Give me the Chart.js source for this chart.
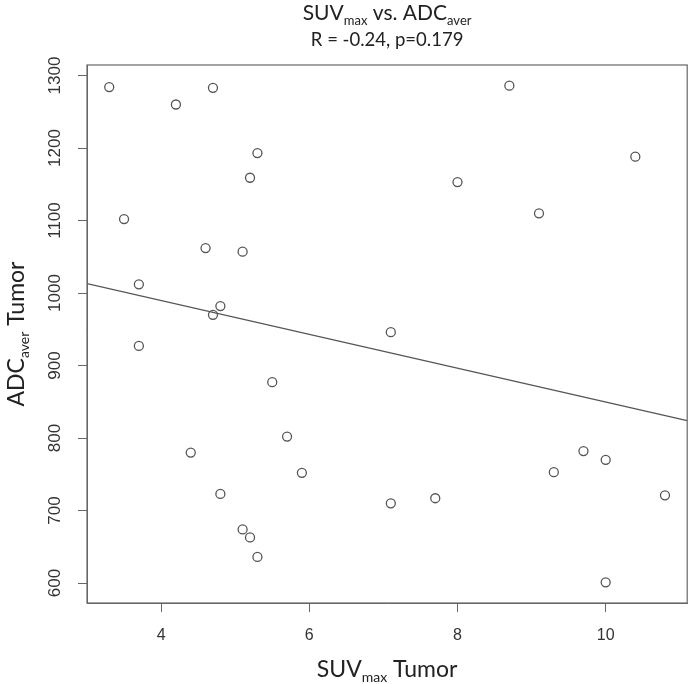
<!DOCTYPE html>
<html>
<head>
<meta charset="utf-8">
<script src="https://cdn.jsdelivr.net/npm/chart.js@4"></script>
<style>
  body { margin: 0; background: #fff; }
  #wrap { width: 693px; height: 684px; }
</style>
</head>
<body>
<div id="wrap"><canvas id="scatterChart" width="693" height="684"></canvas></div>
<script>
// data
const suvMax  = [3.3, 4.7, 4.2, 5.3, 5.2, 3.5, 4.6, 5.1, 3.7, 4.8, 4.7,
                 3.7, 5.5, 5.7, 4.4, 5.9, 4.8, 5.1, 5.2, 5.3,
                 8.7, 10.4, 8.0, 9.1, 7.1,
                 7.1, 7.7, 9.3, 9.7, 10.0, 10.8, 10.0];
const adcAver = [1284, 1283, 1260, 1193, 1159, 1102, 1062, 1057, 1012, 982, 970,
                 927, 877, 802, 780, 752, 723, 674, 663, 636,
                 1286, 1188, 1153, 1110, 946,
                 710, 717, 753, 782, 770, 721, 601];

// regression line (read at the plot edges)
const fitX = [3.0, 11.1];
const fitY = [1013, 824];

const xTicks = [4, 6, 8, 10];
const yTicks = [600, 700, 800, 900, 1000, 1100, 1200, 1300];

const titleText = [{ t: 'SUV' }, { t: 'max', sub: true }, { t: ' vs. ADC' }, { t: 'aver', sub: true }];
const subtitleText = 'R = -0.24, p=0.179';
const xTitle = [{ t: 'SUV' }, { t: 'max', sub: true }, { t: ' Tumor' }];
const yTitle = [{ t: 'ADC' }, { t: 'aver', sub: true }, { t: ' Tumor' }];

const points = suvMax.map((v, i) => ({ x: v, y: adcAver[i] }));
const fitLine = fitX.map((v, i) => ({ x: v, y: fitY[i] }));

const tickFont = "'Liberation Sans', Arial, sans-serif";

// texte avec indices
function drawRich(ctx, parts, x, y, size, family) {
    const subSize = Math.round(size * 0.62);
    let total = 0;
    parts.forEach(p => {
        ctx.font = (p.sub ? subSize : size) + 'px ' + family;
        total += ctx.measureText(p.t).width;
    });
    let cx = x - total / 2;
    ctx.textAlign = 'left';
    ctx.textBaseline = 'alphabetic';
    parts.forEach(p => {
        ctx.font = (p.sub ? subSize : size) + 'px ' + family;
        ctx.fillText(p.t, cx, p.sub ? y + size * 0.22 : y);
        cx += ctx.measureText(p.t).width;
    });
}

const titlesPlugin = {
    id: 'titles',
    afterDraw(chart) {
        const ctx = chart.ctx;
        const a = chart.chartArea;
        const mid = (a.left + a.right) / 2;
        ctx.save();
        // cadre
        ctx.strokeStyle = '#666';
        ctx.lineWidth = 1.2;
        ctx.strokeRect(a.left, a.top, a.right - a.left, a.bottom - a.top);

        ctx.fillStyle = '#222';
        drawRich(ctx, titleText, mid, 20, 21, 'Lato, sans-serif');
        ctx.font = '18.5px Lato, sans-serif';
        ctx.textAlign = 'center';
        ctx.fillText(subtitleText, mid, 46);

        drawRich(ctx, xTitle, mid, 677, 23, 'Lato, sans-serif');

        ctx.translate(24, (a.top + a.bottom) / 2);
        ctx.rotate(-Math.PI / 2);
        drawRich(ctx, yTitle, 0, 0, 23, 'Lato, sans-serif');
        ctx.restore();
    }
};

const ctx = document.getElementById('scatterChart').getContext('2d');
const chart = new Chart(ctx, {
    type: 'scatter',
    data: {
        datasets: [{
            data: points,
            pointStyle: 'circle',
            pointRadius: 4.5,
            backgroundColor: 'rgba(0,0,0,0)',
            borderColor: '#555',
            borderWidth: 1.3
        }, {
            data: fitLine,
            showLine: true,
            pointRadius: 0,
            borderColor: '#555',
            borderWidth: 1.3
        }]
    },
    options: {
        responsive: false,
        animation: false,
        layout: { padding: { top: 65, right: 5, left: 0, bottom: 0 } },
        plugins: {
            legend: { display: false },
            tooltip: { enabled: false }
        },
        scales: {
            x: {
                type: 'linear',
                min: 3.0,
                max: 11.1,
                afterBuildTicks: s => { s.ticks = xTicks.map(v => ({ value: v })); },
                afterFit: s => { s.height = 81; },
                grid: { drawOnChartArea: false, tickLength: 9, color: '#666' },
                border: { color: '#666' },
                ticks: {
                    padding: 14,
                    color: '#333',
                    callback: v => String(v),
                    font: { family: tickFont, size: 16 }
                }
            },
            y: {
                type: 'linear',
                min: 572.5,
                max: 1314.5,
                afterBuildTicks: s => { s.ticks = yTicks.map(v => ({ value: v })); },
                afterFit: s => { s.width = 87; },
                grid: { drawOnChartArea: false, tickLength: 9, color: '#666' },
                border: { color: '#666' },
                ticks: {
                    minRotation: 90,
                    maxRotation: 90,
                    crossAlign: 'center',
                    padding: 4,
                    color: '#333',
                    callback: v => String(v),
                    font: { family: tickFont, size: 17 }
                }
            }
        }
    },
    plugins: [titlesPlugin]
});
</script>
</body>
</html>
